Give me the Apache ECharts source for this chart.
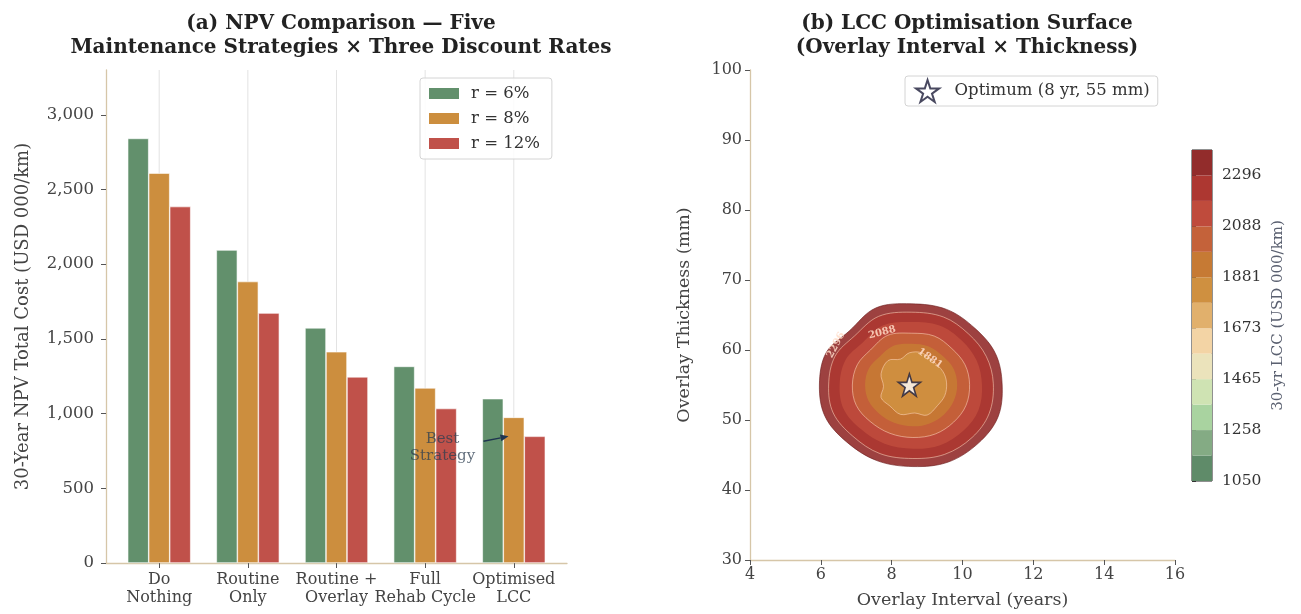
<!DOCTYPE html>
<html><head><meta charset="utf-8">
<script src="https://cdn.jsdelivr.net/npm/echarts@6/dist/echarts.min.js"></script>
<style>html,body{margin:0;padding:0;background:#fff}#c{width:1301px;height:614px}</style>
</head><body><div id="c"></div>
<script>
// ---------- Panel (a) data ----------
const categories = ['Do\nNothing', 'Routine\nOnly', 'Routine +\nOverlay', 'Full\nRehab Cycle', 'Optimised\nLCC'];
const categoryPositions = [0, 1, 2, 3, 4];
const rateNames = ['r = 6%', 'r = 8%', 'r = 12%'];
const npvR6 = [2842, 2095, 1574, 1316, 1100];
const npvR8 = [2610, 1884, 1414, 1172, 975];
const npvR12 = [2386, 1673, 1246, 1034, 848];
const npvTicks = [0, 500, 1000, 1500, 2000, 2500, 3000];

// ---------- Panel (b) data ----------
const lccLevels = [1050, 1153.8, 1257.7, 1361.5, 1465.4, 1569.2, 1673.1, 1776.9, 1880.8, 1984.6, 2088.5, 2192.3, 2296.2, 2400];
const lccTicks = [1050, 1257.7, 1465.4, 1673.1, 1880.8, 2088.5, 2296.2];
const lccTickLabels = ['1050', '1258', '1465', '1673', '1881', '2088', '2296'];
const optimum = [8.5, 55];
const optimumName = 'Optimum (8 yr, 55 mm)';
// contour boundaries: [interval (yr), thickness (mm)]
const contourEdge = [[11.12,55.0],[10.93,59.5],[10.35,63.1],[9.55,65.8],[8.55,66.6],[7.55,66.0],[6.8,62.7],[6.15,59.6],[5.96,55.0],[6.12,50.5],[6.72,46.9],[7.58,44.2],[8.6,43.35],[9.6,44.0],[10.45,46.7],[11.0,50.4]];
const contour2296 = [[10.87,55.2],[10.67,59.1],[10.17,62.3],[9.47,64.7],[8.55,65.4],[7.63,64.8],[6.95,62.0],[6.4,59.1],[6.22,55.0],[6.35,51.0],[6.9,47.7],[7.67,45.2],[8.6,44.5],[9.5,45.1],[10.27,47.5],[10.75,50.9]];
const contour2192 = [[10.55,55.0],[10.4,58.5],[9.97,61.4],[9.35,63.5],[8.55,64.0],[7.75,63.5],[7.17,61.0],[6.7,58.6],[6.53,55.0],[6.65,51.5],[7.13,48.7],[7.8,46.6],[8.6,45.9],[9.37,46.4],[10.03,48.5],[10.45,51.4]];
const contour2088 = [[10.2,55.1],[10.07,57.9],[9.7,60.2],[9.2,62.0],[8.55,62.4],[7.89,62.1],[7.4,60.0],[7.03,57.9],[6.89,55.0],[7.0,52.1],[7.39,49.8],[7.95,48.1],[8.6,47.5],[9.23,48.0],[9.75,49.7],[10.1,52.1]];
const contour1985 = [[9.85,55.0],[9.75,57.3],[9.45,59.1],[9.05,60.5],[8.55,60.9],[8.05,60.6],[7.65,59.0],[7.35,57.3],[7.25,55.0],[7.35,52.7],[7.65,50.9],[8.07,49.6],[8.6,49.1],[9.07,49.5],[9.48,50.8],[9.75,52.7]];
const contour1881 = [[9.55,55.3],[9.45,56.9],[9.17,58.4],[8.85,59.6],[8.5,59.6],[8.25,58.7],[7.9,58.5],[7.7,56.6],[7.77,54.8],[7.7,53.2],[7.95,52.0],[8.25,50.8],[8.65,51.0],[9.0,50.7],[9.3,52.1],[9.5,53.5]];
const contourLabelTexts = ['2296', '2088', '1881'];
const contourLabelAt = [[6.43, 60.7], [7.73, 62.5], [9.08, 58.8]];

// ---------- styling ----------
const FONT = "'DejaVu Serif', 'Liberation Serif', serif";
const barColors = ['#62906c', '#cc8e3e', '#c0514a'];
const bandColors = ['#5f8b69','#84ab84','#a9d3a0','#cfe3b3','#ebe3bb','#f3d4a5','#e1b06c','#cf9040','#c67a34','#c4623a','#bf4b3c','#ad3731','#922c2b'];
const spine = '#d6c6a8';
const starPath = 'path://M50,2 L61.2,36.6 L97.6,36.6 L68.2,58 L79.4,92.6 L50,71.2 L20.6,92.6 L31.8,58 L2.4,36.6 L38.8,36.6 Z';
const contourFills = [
  {poly: contourEdge, band: 12},
  {poly: contour2296, band: 11},
  {poly: contour2192, band: 10},
  {poly: contour2088, band: 9},
  {poly: contour1985, band: 8},
  {poly: contour1881, band: 7}
];
const contourLines = [contour2296, contour2088, contour1881];
const labelAngles = [62, 14, -35];

const chart = echarts.init(document.getElementById('c'), null, {renderer: 'canvas'});
const npvSeries = [npvR6, npvR8, npvR12];

const option = {
  backgroundColor: '#fff',
  animation: false,
  textStyle: {fontFamily: FONT},
  title: [
    {text: '(a) NPV Comparison — Five\nMaintenance Strategies × Three Discount Rates', left: 336, top: 7, textAlign: 'center',
     textStyle: {fontFamily: FONT, fontSize: 20, fontWeight: 'bold', color: '#222', lineHeight: 24}},
    {text: '(b) LCC Optimisation Surface\n(Overlay Interval × Thickness)', left: 962, top: 7, textAlign: 'center',
     textStyle: {fontFamily: FONT, fontSize: 20, fontWeight: 'bold', color: '#222', lineHeight: 24}}
  ],
  legend: [
    {data: rateNames, orient: 'vertical', left: 420, top: 78, icon: 'rect', itemWidth: 32, itemHeight: 13, itemGap: 8,
     textStyle: {fontFamily: FONT, fontSize: 16.5, color: '#333', padding: [0, 0, 0, 6]}, borderColor: '#d4d4d4', borderWidth: 1, borderRadius: 3,
     padding: [7, 12, 7, 7], backgroundColor: 'rgba(255,255,255,0.85)'},
    {data: [{name: optimumName, icon: starPath}], left: 905, top: 76, itemWidth: 24, itemHeight: 22,
     textStyle: {fontFamily: FONT, fontSize: 16.5, color: '#333', padding: [0, 0, 0, 10]}, borderColor: '#d4d4d4', borderWidth: 1, borderRadius: 3,
     padding: [3, 8, 3, 10], backgroundColor: 'rgba(255,255,255,0.85)'}
  ],
  grid: [
    {left: 106, right: 734, top: 70, bottom: 51},
    {left: 750, right: 126, top: 70, bottom: 51},
    {left: 1192, width: 20, top: 150, height: 331, show: true, borderColor: '#222', borderWidth: 1, backgroundColor: 'transparent'}
  ],
  xAxis: [
    {gridIndex: 0, type: 'value', min: -0.6, max: 4.6,
     axisLine: {show: true, onZero: false, lineStyle: {color: spine, width: 1.3}},
     axisTick: {show: true, customValues: categoryPositions, length: 5, lineStyle: {color: '#555'}},
     axisLabel: {show: false},
     splitLine: {show: false}},
    {gridIndex: 1, type: 'value', min: 4, max: 16, interval: 2,
     axisLine: {show: true, onZero: false, lineStyle: {color: spine, width: 1.3}},
     axisTick: {show: true, length: 5, lineStyle: {color: '#555'}},
     axisLabel: {fontFamily: FONT, fontSize: 16, color: '#444', margin: 7},
     splitLine: {show: false},
     name: 'Overlay Interval (years)', nameLocation: 'middle', nameGap: 31,
     nameTextStyle: {fontFamily: FONT, fontSize: 17.5, color: '#444'}},
    {gridIndex: 2, type: 'value', min: 0, max: 1, show: false}
  ],
  yAxis: [
    {gridIndex: 0, type: 'value', min: 0, max: 3300,
     axisLine: {show: true, onZero: false, lineStyle: {color: spine, width: 1.3}},
     axisTick: {show: true, customValues: npvTicks, length: 5, lineStyle: {color: '#555'}},
     axisLabel: {customValues: npvTicks, formatter: v => Number(v).toLocaleString('en-US'), fontFamily: FONT, fontSize: 16.5, color: '#444', margin: 12},
     splitLine: {show: false},
     name: '30-Year NPV Total Cost (USD 000/km)', nameLocation: 'middle', nameGap: 74,
     nameTextStyle: {fontFamily: FONT, fontSize: 18, color: '#444'}},
    {gridIndex: 1, type: 'value', min: 30, max: 100, interval: 10,
     axisLine: {show: true, onZero: false, lineStyle: {color: spine, width: 1.3}},
     axisTick: {show: true, length: 5, lineStyle: {color: '#555'}},
     axisLabel: {fontFamily: FONT, fontSize: 16, color: '#444', margin: 8},
     splitLine: {show: false},
     name: 'Overlay Thickness (mm)', nameLocation: 'middle', nameGap: 57,
     nameTextStyle: {fontFamily: FONT, fontSize: 17.5, color: '#444'}},
    {gridIndex: 2, type: 'value', min: 1050, max: 2400, position: 'right',
     axisLine: {show: false},
     axisTick: {show: true, customValues: lccTicks, length: 4, inside: false, lineStyle: {color: '#333'}},
     axisLabel: {customValues: lccTicks, formatter: v => lccTickLabels[lccTicks.indexOf(v)] ?? String(Math.round(v)), fontFamily: FONT, fontSize: 15.5, color: '#333', margin: 10},
     splitLine: {show: false},
     name: '30-yr LCC (USD 000/km)', nameLocation: 'middle', nameRotate: 90, nameGap: 59,
     nameTextStyle: {fontFamily: FONT, fontSize: 15, color: '#5a6070'}}
  ],
  series: [
    // light vertical grid lines at category centres
    {type: 'custom', xAxisIndex: 0, yAxisIndex: 0, silent: true, z: 1,
     data: categoryPositions.map(p => [p, 0]), encode: {x: 0, y: 1},
     renderItem: (params, api) => {
       const x = api.coord([api.value(0), 0])[0];
       const cs = params.coordSys;
       return {type: 'line', shape: {x1: x, y1: cs.y, x2: x, y2: cs.y + cs.height}, style: {stroke: '#e3e3e3', lineWidth: 1}};
     }},
    // category labels under the axis
    {type: 'custom', xAxisIndex: 0, yAxisIndex: 0, silent: true, z: 5, clip: false,
     data: categoryPositions.map(p => [p, 0]), encode: {x: 0, y: 1},
     renderItem: (params, api) => {
       const p = api.coord([api.value(0), 0]);
       return {type: 'text', x: p[0], y: p[1] + 8,
         style: {text: categories[params.dataIndex], align: 'center', verticalAlign: 'top',
           font: '16px ' + FONT, lineHeight: 18, fill: '#444'}};
     }},
    ...npvSeries.map((arr, k) => ({
      type: 'bar', name: rateNames[k], xAxisIndex: 0, yAxisIndex: 0, z: 3,
      data: arr.map((v, i) => [categoryPositions[i], v]),
      barWidth: 21, barGap: '0%',
      itemStyle: {color: barColors[k], borderColor: '#fff', borderWidth: 0.6}
    })),
    // filled contour bands
    {type: 'custom', xAxisIndex: 1, yAxisIndex: 1, silent: true, z: 2,
     data: contourFills.map((f, i) => [optimum[0], optimum[1], i]), encode: {x: 0, y: 1},
     renderItem: (params, api) => {
       const f = contourFills[params.dataIndex];
       const pts = f.poly.map(p => api.coord(p));
       const isEdge = params.dataIndex === 0;
       return {type: 'polygon', shape: {points: pts, smooth: 0.35},
         style: {fill: bandColors[f.band], opacity: 0.9, stroke: isEdge ? 'rgba(110,30,30,0.7)' : null, lineWidth: isEdge ? 1 : 0}};
     }},
    // contour lines
    {type: 'custom', xAxisIndex: 1, yAxisIndex: 1, silent: true, z: 3,
     data: contourLines.map((c, i) => [optimum[0], optimum[1], i]), encode: {x: 0, y: 1},
     renderItem: (params, api) => {
       const pts = contourLines[params.dataIndex].map(p => api.coord(p));
       return {type: 'polygon', shape: {points: pts, smooth: 0.35},
         style: {fill: null, stroke: 'rgba(255,215,190,0.55)', lineWidth: 1}};
     }},
    // contour labels
    {type: 'custom', xAxisIndex: 1, yAxisIndex: 1, silent: true, z: 4,
     data: contourLabelAt.map((p, i) => [p[0], p[1], i]), encode: {x: 0, y: 1},
     renderItem: (params, api) => {
       const i = params.dataIndex;
       const p = api.coord([api.value(0), api.value(1)]);
       return {type: 'text', x: p[0], y: p[1], rotation: labelAngles[i] * Math.PI / 180,
         style: {text: contourLabelTexts[i], align: 'center', verticalAlign: 'middle',
           font: "bold 10px " + FONT, fill: 'rgba(255,220,200,0.85)'}};
     }},
    {type: 'scatter', name: optimumName, xAxisIndex: 1, yAxisIndex: 1, z: 10,
     data: [optimum], symbol: starPath, symbolSize: 22,
     itemStyle: {color: '#ffffff', borderColor: '#1c1c38', borderWidth: 1.6}},
    // colour bar
    {type: 'custom', xAxisIndex: 2, yAxisIndex: 2, silent: true,
     data: bandColors.map((c, i) => [lccLevels[i], lccLevels[i + 1], i]), encode: {y: 0},
     renderItem: (params, api) => {
       const lo = api.coord([0, api.value(0)]);
       const hi = api.coord([1, api.value(1)]);
       return {type: 'rect', shape: {x: lo[0], y: hi[1], width: hi[0] - lo[0], height: lo[1] - hi[1]},
         style: {fill: bandColors[params.dataIndex]}};
     }}
  ]
};
chart.setOption(option);

// "Best Strategy" annotation anchored to the Optimised LCC bars
const tip = chart.convertToPixel({xAxisIndex: 0, yAxisIndex: 0}, [3.94, npvR12[4]]);
const start = [tip[0] - 25, tip[1] + 5];
const dx = tip[0] - start[0], dy = tip[1] - start[1];
const len = Math.hypot(dx, dy), ux = dx / len, uy = dy / len;
const base = [tip[0] - 8 * ux, tip[1] - 8 * uy];
chart.setOption({graphic: [
  {type: 'line', z: 20, shape: {x1: start[0], y1: start[1], x2: base[0], y2: base[1]}, style: {stroke: '#1f3550', lineWidth: 1.5}},
  {type: 'polygon', z: 20, shape: {points: [tip, [base[0] - 3.5 * uy, base[1] + 3.5 * ux], [base[0] + 3.5 * uy, base[1] - 3.5 * ux]]}, style: {fill: '#1f3550'}},
  {type: 'text', z: 20, x: tip[0] - 66, y: tip[1] + 11, style: {text: 'Best\nStrategy', align: 'center', verticalAlign: 'middle',
    font: '15px ' + FONT, lineHeight: 17, fill: 'rgba(44,62,80,0.75)'}}
]});
</script>
</body></html>
